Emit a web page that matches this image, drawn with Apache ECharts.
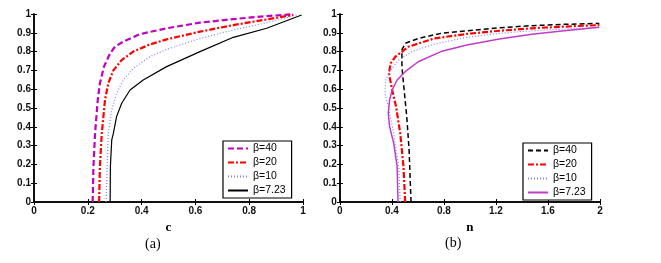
<!DOCTYPE html>
<html><head><meta charset="utf-8">
<script src="https://cdn.jsdelivr.net/npm/echarts@6/dist/echarts.min.js"></script>
<style>
html,body{margin:0;padding:0;background:#fff;}
#a{position:absolute;left:0;top:0;width:320px;height:263px;}
#b{position:absolute;left:320px;top:0;width:341px;height:263px;}
</style></head>
<body><div id="a"></div><div id="b"></div>
<script>
// ---- Panel (a): x = c, y = value ----
const seriesNames = ['β=40', 'β=20', 'β=10', 'β=7.23'];
const aX40 = [0.218,0.221,0.227,0.237,0.245,0.260,0.283,0.301,0.332,0.394,0.493,0.617,0.741,0.865,0.958];
const aY40 = [0,0.188,0.365,0.543,0.631,0.720,0.791,0.826,0.853,0.893,0.924,0.954,0.973,0.989,0.998];
const aX20 = [0.242,0.245,0.252,0.264,0.276,0.295,0.326,0.369,0.431,0.493,0.617,0.741,0.865,0.964];
const aY20 = [0,0.188,0.365,0.543,0.631,0.700,0.755,0.800,0.838,0.865,0.906,0.941,0.971,0.995];
const aX10 = [0.268,0.272,0.276,0.289,0.307,0.332,0.369,0.431,0.493,0.617,0.741,0.865,0.977];
const aY10 = [0,0.188,0.365,0.490,0.578,0.649,0.711,0.773,0.812,0.870,0.915,0.954,0.995];
const aX7 = [0.283,0.284,0.289,0.295,0.307,0.326,0.357,0.406,0.493,0.617,0.741,0.865,0.995];
const aY7 = [0,0.188,0.330,0.365,0.454,0.525,0.596,0.649,0.720,0.800,0.876,0.924,0.995];

// ---- Panel (b): x = n, y = value ----
const bX40 = [0.547,0.532,0.514,0.489,0.477,0.477,0.502,0.602,0.777,0.976,1.226,1.476,1.725,1.995];
const bY40 = [0,0.277,0.454,0.631,0.720,0.809,0.844,0.870,0.897,0.911,0.927,0.938,0.945,0.950];
const bX20 = [0.502,0.489,0.464,0.432,0.402,0.377,0.390,0.427,0.527,0.727,0.976,1.226,1.476,1.725,1.995];
const bY20 = [0,0.188,0.365,0.507,0.596,0.684,0.738,0.773,0.826,0.870,0.894,0.911,0.924,0.933,0.941];
const bX10 = [0.464,0.452,0.414,0.377,0.347,0.352,0.390,0.452,0.552,0.727,0.976,1.226,1.476,1.725,1.995];
const bY10 = [0,0.188,0.365,0.490,0.578,0.649,0.702,0.755,0.800,0.840,0.876,0.897,0.911,0.920,0.929];
const bX7 = [0.447,0.440,0.414,0.382,0.372,0.382,0.402,0.440,0.502,0.602,0.777,0.976,1.226,1.476,1.725,1.995];
const bY7 = [0,0.188,0.312,0.401,0.472,0.543,0.596,0.649,0.693,0.746,0.800,0.835,0.867,0.892,0.911,0.929];

const yMin = 0, yMax = 1, yStep = 0.1;
const aXMin = 0, aXMax = 1, aXStep = 0.2;
const bXMin = 0, bXMax = 2, bXStep = 0.4;

function pairs(xs, ys){ return xs.map((x,i)=>[x, ys[i]]); }

const tickFont = {fontFamily:'Liberation Sans, Arial, sans-serif', fontSize:10, fontWeight:'bold', color:'#111'};
function axes(xmin,xmax,xstep,xname){
  const line = {show:true, lineStyle:{color:'#000', width:1.5}};
  const tick = {show:true, inside:true, length:3, lineStyle:{color:'#000', width:1}};
  return {
    xAxis:[
      {type:'value', min:xmin, max:xmax, interval:xstep, position:'bottom', axisLine:line, axisTick:tick,
       splitLine:{show:false}, axisLabel:Object.assign({margin:4}, tickFont),
       name:xname, nameLocation:'middle', nameGap:15,
       nameTextStyle:{fontFamily:'Liberation Serif, Times New Roman, serif', fontWeight:'bold', fontSize:13, color:'#000'}},
      {type:'value', min:xmin, max:xmax, interval:xstep, position:'top', axisLine:line, axisTick:tick,
       splitLine:{show:false}, axisLabel:{show:false}}
    ],
    yAxis:[
      {type:'value', min:yMin, max:yMax, interval:yStep, position:'left', axisLine:line, axisTick:tick,
       splitLine:{show:false}, axisLabel:Object.assign({margin:3}, tickFont)},
      {type:'value', min:yMin, max:yMax, interval:yStep, position:'right', axisLine:line, axisTick:tick,
       splitLine:{show:false}, axisLabel:{show:false}}
    ]
  };
}
function ser(name, data, color, width, type){
  return {type:'line', name:name, data:data, symbol:'none', animation:false, smooth:false,
          lineStyle:{color:color, width:width, type:type}, itemStyle:{color:color}, z:3};
}
function legend(left, top){
  return {data:seriesNames, left:left, top:top, orient:'vertical', itemWidth:20, itemHeight:10, itemGap:3,
          padding:[2,6,2,4], borderColor:'#000', borderWidth:1.2, backgroundColor:'#fff', selectedMode:false,
          itemStyle:{opacity:0},
          textStyle:{fontFamily:'Liberation Sans, Arial, sans-serif', fontSize:10.5, color:'#000'}};
}
function label(text, x, y){
  return {type:'text', left:x, top:y, style:{text:text, font:'14px "Liberation Serif", "Times New Roman", serif', fill:'#000'}};
}

const chA = echarts.init(document.getElementById('a'));
chA.setOption(Object.assign({
  animation:false,
  grid:{left:34, top:14, width:269, height:188, containLabel:false},
  legend:legend(223,141),
  graphic:[label('(a)', 145, 237)],
  series:[
    ser(seriesNames[0], pairs(aX40,aY40), '#c000c0', 2.2, [6,3]),
    ser(seriesNames[1], pairs(aX20,aY20), '#ff0000', 2.2, [6,2,2,2]),
    ser(seriesNames[2], pairs(aX10,aY10), '#8080ff', 1.2, [1,2]),
    ser(seriesNames[3], pairs(aX7,aY7), '#000000', 1.2, 'solid')
  ]
}, axes(aXMin,aXMax,aXStep,'c')));

const chB = echarts.init(document.getElementById('b'));
chB.setOption(Object.assign({
  animation:false,
  grid:{left:13, top:14, width:267, height:188, containLabel:false},
  legend:legend(203,143),
  graphic:[label('(b)', 125, 236)],
  series:[
    ser(seriesNames[0], pairs(bX40,bY40), '#000000', 1.5, [5,3]),
    ser(seriesNames[1], pairs(bX20,bY20), '#ff0000', 2.2, [6,2,2,2]),
    ser(seriesNames[2], pairs(bX10,bY10), '#8080ff', 1.2, [1,2]),
    ser(seriesNames[3], pairs(bX7,bY7), '#c03cc8', 1.5, 'solid')
  ]
}, axes(bXMin,bXMax,bXStep,'n')));
</script></body></html>
